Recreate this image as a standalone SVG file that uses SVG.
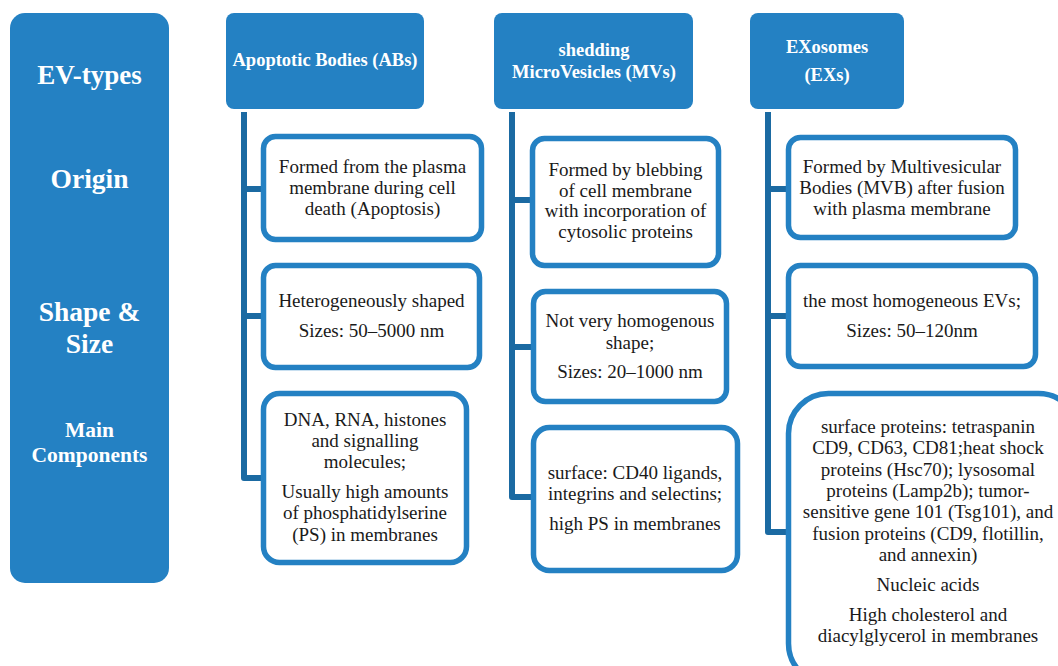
<svg xmlns="http://www.w3.org/2000/svg" width="1058" height="666" viewBox="0 0 1058 666">
<style>
.hdr{fill:#2481c3}
.box{fill:#fff;stroke:#2481c3;stroke-width:5.5}
.con{fill:none;stroke:#1b6aa2;stroke-width:6;stroke-linejoin:round}
.ht{font-family:"Liberation Serif",serif;font-weight:bold;fill:#fff;text-anchor:middle}
.bt{font-family:"Liberation Serif",serif;font-size:19px;fill:#1a1a1a;text-anchor:middle}
</style>
<rect width="1058" height="666" fill="#fff"/>
<g id="connectors">
<path class="con" d="M244 112V478H263M244 189H263M244 316H263"/>
<path class="con" d="M512 112V497H532M512 200H532M512 347H532"/>
<path class="con" d="M768 112V532H788M768 189H788M768 316H788"/>
</g>
<g id="ev-panel">
<rect class="hdr" x="10" y="13" width="159" height="570" rx="15"/>
<text class="ht" x="89.5" y="84" font-size="27">EV-types</text>
<text class="ht" x="89.5" y="188" font-size="27.5">Origin</text>
<text class="ht" x="89.5" y="321" font-size="27.5">Shape &amp;</text>
<text class="ht" x="89.5" y="353" font-size="27.5">Size</text>
<text class="ht" x="89.5" y="437" font-size="21.5">Main</text>
<text class="ht" x="89.5" y="462" font-size="21.5">Components</text>
</g>
<g id="hdr-abs">
<rect class="hdr" x="226" y="13" width="198" height="96" rx="8"/>
<text class="ht" x="325" y="66" font-size="18.5">Apoptotic Bodies (ABs)</text>
</g>
<g id="hdr-mvs">
<rect class="hdr" x="494" y="13" width="199" height="96" rx="8"/>
<text class="ht" x="594" y="56" font-size="18.5">shedding</text>
<text class="ht" x="594" y="78" font-size="18.5">MicroVesicles (MVs)</text>
</g>
<g id="hdr-exs">
<rect class="hdr" x="750" y="13" width="154" height="96" rx="8"/>
<text class="ht" x="827" y="53" font-size="18.5">EXosomes</text>
<text class="ht" x="827" y="81" font-size="18.5">(EXs)</text>
</g>
<g id="abs-origin">
<rect class="box" x="263.5" y="136.5" width="218" height="103" rx="12"/>
<text class="bt" x="372.5" y="173">Formed from the plasma</text>
<text class="bt" x="372.5" y="194">membrane during cell</text>
<text class="bt" x="372.5" y="215">death (Apoptosis)</text>
</g>
<g id="abs-shape">
<rect class="box" x="263.5" y="265.5" width="216" height="102" rx="12"/>
<text class="bt" x="371.5" y="307">Heterogeneously shaped</text>
<text class="bt" x="371.5" y="337">Sizes: 50–5000 nm</text>
</g>
<g id="abs-comp">
<rect class="box" x="263.5" y="393.5" width="203" height="169" rx="16"/>
<text class="bt" x="365" y="426">DNA, RNA, histones</text>
<text class="bt" x="365" y="447">and signalling</text>
<text class="bt" x="365" y="468">molecules;</text>
<text class="bt" x="365" y="498">Usually high amounts</text>
<text class="bt" x="365" y="519">of phosphatidylserine</text>
<text class="bt" x="365" y="541">(PS) in membranes</text>
</g>
<g id="mvs-origin">
<rect class="box" x="532.5" y="138.5" width="186" height="127" rx="12"/>
<text class="bt" x="625.5" y="176">Formed by blebbing</text>
<text class="bt" x="625.5" y="197">of cell membrane</text>
<text class="bt" x="625.5" y="217">with incorporation of</text>
<text class="bt" x="625.5" y="238">cytosolic proteins</text>
</g>
<g id="mvs-shape">
<rect class="box" x="533.5" y="291.5" width="193" height="110" rx="12"/>
<text class="bt" x="630" y="327">Not very homogenous</text>
<text class="bt" x="630" y="349">shape;</text>
<text class="bt" x="630" y="378">Sizes: 20–1000 nm</text>
</g>
<g id="mvs-comp">
<rect class="box" x="533.5" y="427.5" width="204" height="143" rx="16"/>
<text class="bt" x="635" y="479">surface: CD40 ligands,</text>
<text class="bt" x="635" y="500">integrins and selectins;</text>
<text class="bt" x="635" y="530">high PS in membranes</text>
</g>
<g id="exs-origin">
<rect class="box" x="788.5" y="137.5" width="227" height="100" rx="12"/>
<text class="bt" x="902" y="173">Formed by Multivesicular</text>
<text class="bt" x="902" y="194">Bodies (MVB) after fusion</text>
<text class="bt" x="902" y="215">with plasma membrane</text>
</g>
<g id="exs-shape">
<rect class="box" x="788.5" y="265.5" width="247" height="101" rx="12"/>
<text class="bt" x="912" y="307">the most homogeneous EVs;</text>
<text class="bt" x="912" y="337">Sizes: 50–120nm</text>
</g>
<g id="exs-comp">
<rect class="box" x="788.5" y="393.5" width="290" height="290" rx="40"/>
<text class="bt" x="928" y="433">surface proteins: tetraspanin</text>
<text class="bt" x="928" y="454">CD9, CD63, CD81;heat shock</text>
<text class="bt" x="928" y="476">proteins (Hsc70); lysosomal</text>
<text class="bt" x="928" y="497">proteins (Lamp2b); tumor-</text>
<text class="bt" x="928" y="518">sensitive gene 101 (Tsg101), and</text>
<text class="bt" x="928" y="540">fusion proteins (CD9, flotillin,</text>
<text class="bt" x="928" y="561">and annexin)</text>
<text class="bt" x="928" y="591">Nucleic acids</text>
<text class="bt" x="928" y="621">High cholesterol and</text>
<text class="bt" x="928" y="642">diacylglycerol in membranes</text>
</g>
</svg>
